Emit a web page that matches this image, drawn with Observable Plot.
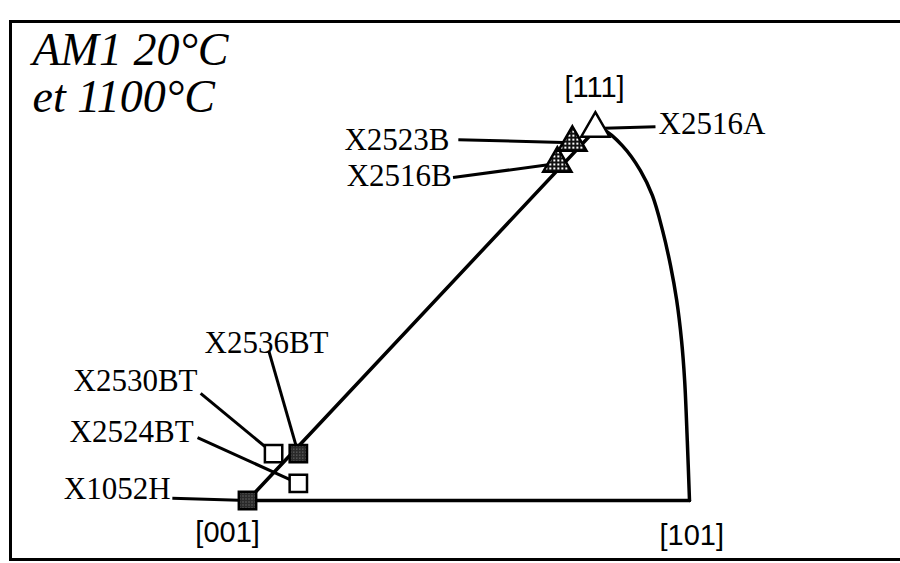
<!DOCTYPE html>
<html>
<head>
<meta charset="utf-8">
<script src="https://cdn.jsdelivr.net/npm/d3@7"></script>
<script src="https://cdn.jsdelivr.net/npm/@observablehq/plot@0.6"></script>
<style>
  body { margin: 0; background: #fff; }
  #chart { width: 900px; height: 563px; }
</style>
</head>
<body>
<div id="chart"></div>
<script>
// Standard stereographic triangle, in plot units: [001] at the origin, [101] at x = 1
const poleNames = ["[001]", "[101]", "[111]"];
const poleX = [0, 1, 0.790];
const poleY = [0, 0, 1];
const poleLabelX = [-0.045, 1.005, 0.785];
const poleLabelY = [-0.086, -0.094, 1.110];

// [111]–[101] boundary arc, from [111] down to [101]
const arcX = [0.790, 0.805, 0.848, 0.889, 0.916, 0.939, 0.957, 0.971, 0.982, 0.989, 0.995, 1];
const arcY = [1, 0.997, 0.954, 0.887, 0.820, 0.726, 0.632, 0.538, 0.430, 0.323, 0.161, 0];

// Specimen tensile axes
const specimens = ["X1052H", "X2524BT", "X2530BT", "X2536BT", "X2516B", "X2523B", "X2516A"];
const specX = [0, 0.115, 0.059, 0.115, 0.701, 0.735, 0.787];
const specY = [0, 0.046, 0.126, 0.126, 0.906, 0.962, 1.0];
const specShape = ["square", "square", "square", "square", "triangle", "triangle", "triangle"];
const specFill = ["dark", "open", "open", "dark", "hatched", "hatched", "open"];

// Specimen labels and the start of their leader lines
const labelX = [-0.174, -0.122, -0.113, 0.043, 0.462, 0.457, 0.930];
const labelY = [0.030, 0.185, 0.320, 0.422, 0.871, 0.970, 1.011];
const labelAlign = ["end", "end", "end", "middle", "end", "end", "start"];
const leaderX = [-0.170, -0.113, -0.106, 0.048, 0.465, 0.477, 0.923];
const leaderY = [0.006, 0.169, 0.288, 0.403, 0.868, 0.970, 1.005];

const titleText = "AM1 20°C\net 1100°C";

const poles = poleNames.map((name, i) => ({name, x: poleX[i], y: poleY[i], lx: poleLabelX[i], ly: poleLabelY[i]}));
const arc = arcX.map((x, i) => ({x, y: arcY[i]}));
const pts = specimens.map((name, i) => ({
  name, x: specX[i], y: specY[i], shape: specShape[i], fill: specFill[i],
  lx: labelX[i], ly: labelY[i], align: labelAlign[i], kx: leaderX[i], ky: leaderY[i]
}));

const fillOf = {dark: "url(#stipple)", open: "white", hatched: "url(#checker)"};
// straight edges: [101] -> [001] -> [111]
const edges = [poles[1], poles[0], poles[2]];

const serif = "'Liberation Serif', 'Times New Roman', serif";
const sans = "'Liberation Sans', Arial, sans-serif";

// one text mark per alignment, since textAnchor is a constant option
const labelMarks = ["start", "middle", "end"].map(a =>
  Plot.text(pts.filter(d => d.align === a), {
    x: "lx", y: "ly", text: "name", textAnchor: a,
    fontFamily: serif, fontSize: 31, fill: "black"
  })
);

const chart = Plot.plot({
  width: 900,
  height: 563,
  marginLeft: 10,
  marginTop: 21,
  marginBottom: 4,
  marginRight: -10,
  x: {domain: [0, 1], range: [247, 689], axis: null},
  y: {domain: [0, 1], range: [500, 128], axis: null},
  color: {type: "identity"},
  style: {background: "white", overflow: "visible"},
  marks: [
    Plot.frame({stroke: "black", strokeWidth: 3}),
    Plot.line(edges, {x: "x", y: "y", stroke: "black", strokeWidth: 3.5, strokeLinejoin: "miter"}),
    Plot.line(arc, {x: "x", y: "y", stroke: "black", strokeWidth: 3.5, curve: "catmull-rom"}),
    Plot.link(pts, {x1: "kx", y1: "ky", x2: "x", y2: "y", stroke: "black", strokeWidth: 3}),
    Plot.dot(pts.filter(d => d.shape === "square"), {
      x: "x", y: "y", symbol: "square", r: 9.8,
      fill: d => fillOf[d.fill], stroke: "black", strokeWidth: 2.5
    }),
    Plot.dot(pts.filter(d => d.shape === "triangle"), {
      x: "x", y: "y", symbol: "triangle", r: 10.5,
      fill: d => fillOf[d.fill], stroke: "black", strokeWidth: 2.5
    }),
    ...labelMarks,
    Plot.text(poles, {
      x: "lx", y: "ly", text: "name", fontFamily: sans, fontSize: 29, fill: "black"
    }),
    Plot.text([titleText], {
      frameAnchor: "top-left", dx: 22, dy: 10, lineAnchor: "top", textAnchor: "start",
      lineHeight: 1.02, fontFamily: serif, fontStyle: "italic", fontSize: 46, fill: "black"
    })
  ]
});

// fill patterns for the shaded markers
const defs = d3.select(chart).insert("defs", ":first-child");
const checker = defs.append("pattern").attr("id", "checker")
  .attr("width", 4).attr("height", 4).attr("patternUnits", "userSpaceOnUse");
checker.append("rect").attr("width", 4).attr("height", 4).attr("fill", "#111");
checker.append("rect").attr("width", 2).attr("height", 2).attr("fill", "#fff");
const stipple = defs.append("pattern").attr("id", "stipple")
  .attr("width", 3).attr("height", 3).attr("patternUnits", "userSpaceOnUse");
stipple.append("rect").attr("width", 3).attr("height", 3).attr("fill", "#2a2a2a");
stipple.append("rect").attr("x", 1).attr("y", 1).attr("width", 1).attr("height", 1).attr("fill", "#888");

document.getElementById("chart").appendChild(chart);
</script>
</body>
</html>
